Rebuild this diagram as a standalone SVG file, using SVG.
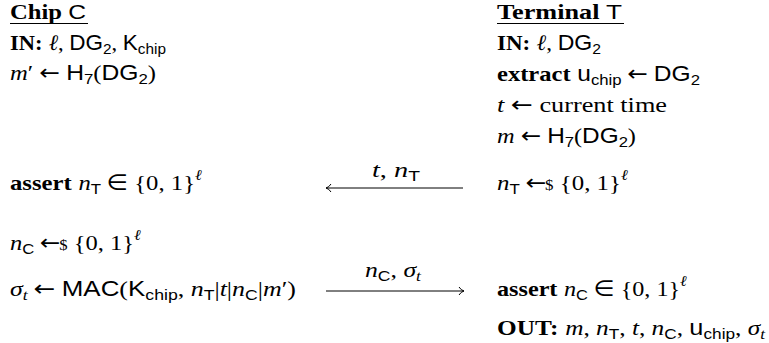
<svg xmlns="http://www.w3.org/2000/svg" width="769" height="343" viewBox="0 0 769 343">
<style>
text { font-size: 22px; fill: #000; font-family: "Liberation Serif", "DejaVu Serif", serif; }
.title { font-size: 21px; }
.bf { font-weight: bold; }
.it { font-style: italic; }
.sf { font-family: "Liberation Sans", "DejaVu Sans", sans-serif; }
.sy { font-family: "DejaVu Sans", sans-serif; }
.sub { font-size: 15px; }
.ul { stroke: #000; stroke-width: 1; }
.arr { stroke: #000; stroke-width: 1; fill: none; }
</style>
<rect width="769" height="343" fill="#fff"/>

<g id="chip">
  <text class="title" x="10" y="19" textLength="76" lengthAdjust="spacingAndGlyphs"><tspan class="bf">Chip</tspan> <tspan class="sf">C</tspan></text>
  <line class="ul" x1="10" y1="23.5" x2="88" y2="23.5"/>
  <text x="10" y="50" textLength="156" lengthAdjust="spacingAndGlyphs"><tspan class="bf">IN:</tspan><tspan class="it" dx="6">ℓ</tspan>, <tspan class="sf">DG</tspan><tspan class="sf sub" dy="4">2</tspan><tspan dy="-4">, </tspan><tspan class="sf">K</tspan><tspan class="sf sub" dy="4">chip</tspan></text>
  <text x="10" y="80" textLength="146" lengthAdjust="spacingAndGlyphs"><tspan class="it">m</tspan>′ <tspan class="sy">←</tspan> <tspan class="sf">H</tspan><tspan class="sf sub" dy="4">7</tspan><tspan dy="-4">(</tspan><tspan class="sf">DG</tspan><tspan class="sf sub" dy="4">2</tspan><tspan dy="-4">)</tspan></text>
  <text x="10" y="190" textLength="192" lengthAdjust="spacingAndGlyphs"><tspan class="bf">assert</tspan><tspan class="it" dx="6">n</tspan><tspan class="sf sub" dy="4">T</tspan><tspan class="sy" dy="-4" dx="5">∈</tspan> {0, 1}<tspan class="it sub" dy="-10">ℓ</tspan></text>
  <text x="10" y="250" textLength="131" lengthAdjust="spacingAndGlyphs"><tspan class="it">n</tspan><tspan class="sf sub" dy="4">C</tspan><tspan class="sy" dy="-4" dx="5">←</tspan><tspan class="sub" dx="-1">$</tspan> {0, 1}<tspan class="it sub" dy="-10">ℓ</tspan></text>
  <text x="10" y="296" textLength="286" lengthAdjust="spacingAndGlyphs"><tspan class="it">σ</tspan><tspan class="it sub" dy="4">t</tspan><tspan class="sy" dy="-4" dx="5">←</tspan> <tspan class="sf">MAC</tspan>(<tspan class="sf">K</tspan><tspan class="sf sub" dy="4">chip</tspan><tspan dy="-4">, </tspan><tspan class="it">n</tspan><tspan class="sf sub" dy="4">T</tspan><tspan dy="-4">|</tspan><tspan class="it">t</tspan>|<tspan class="it">n</tspan><tspan class="sf sub" dy="4">C</tspan><tspan dy="-4">|</tspan><tspan class="it">m</tspan>′)</text>
</g>

<g id="terminal">
  <text class="title" x="497" y="19" textLength="125" lengthAdjust="spacingAndGlyphs"><tspan class="bf">Terminal</tspan> <tspan class="sf">T</tspan></text>
  <line class="ul" x1="497" y1="23.5" x2="624" y2="23.5"/>
  <text x="497" y="50" textLength="104" lengthAdjust="spacingAndGlyphs"><tspan class="bf">IN:</tspan><tspan class="it" dx="6">ℓ</tspan>, <tspan class="sf">DG</tspan><tspan class="sf sub" dy="4">2</tspan></text>
  <text x="497" y="81" textLength="203" lengthAdjust="spacingAndGlyphs"><tspan class="bf">extract</tspan><tspan class="sf" dx="6">u</tspan><tspan class="sf sub" dy="4">chip</tspan><tspan class="sy" dy="-4" dx="5">←</tspan> <tspan class="sf">DG</tspan><tspan class="sf sub" dy="4">2</tspan></text>
  <text x="497" y="112" textLength="170" lengthAdjust="spacingAndGlyphs"><tspan class="it">t</tspan> <tspan class="sy">←</tspan> current time</text>
  <text x="497" y="143" textLength="139" lengthAdjust="spacingAndGlyphs"><tspan class="it">m</tspan> <tspan class="sy">←</tspan> <tspan class="sf">H</tspan><tspan class="sf sub" dy="4">7</tspan><tspan dy="-4">(</tspan><tspan class="sf">DG</tspan><tspan class="sf sub" dy="4">2</tspan><tspan dy="-4">)</tspan></text>
  <text x="497" y="190" textLength="131" lengthAdjust="spacingAndGlyphs"><tspan class="it">n</tspan><tspan class="sf sub" dy="4">T</tspan><tspan class="sy" dy="-4" dx="5">←</tspan><tspan class="sub" dx="-1">$</tspan> {0, 1}<tspan class="it sub" dy="-10">ℓ</tspan></text>
  <text x="497" y="296" textLength="190" lengthAdjust="spacingAndGlyphs"><tspan class="bf">assert</tspan><tspan class="it" dx="6">n</tspan><tspan class="sf sub" dy="4">C</tspan><tspan class="sy" dy="-4" dx="5">∈</tspan> {0, 1}<tspan class="it sub" dy="-10">ℓ</tspan></text>
  <text x="497" y="335" textLength="268" lengthAdjust="spacingAndGlyphs"><tspan class="bf">OUT:</tspan><tspan class="it" dx="6">m</tspan>, <tspan class="it">n</tspan><tspan class="sf sub" dy="4">T</tspan><tspan dy="-4">, </tspan><tspan class="it">t</tspan>, <tspan class="it">n</tspan><tspan class="sf sub" dy="4">C</tspan><tspan dy="-4">, </tspan><tspan class="sf">u</tspan><tspan class="sf sub" dy="4">chip</tspan><tspan dy="-4">, </tspan><tspan class="it">σ</tspan><tspan class="it sub" dy="4">t</tspan></text>
</g>

<g id="connectors">
  <g id="msg1">
    <text x="372" y="177" textLength="48" lengthAdjust="spacingAndGlyphs"><tspan class="it">t</tspan>, <tspan class="it">n</tspan><tspan class="sf sub" dy="4">T</tspan></text>
    <line class="arr" x1="326" y1="188" x2="463" y2="188"/>
    <path class="arr" d="M331,184 Q329,187.2 326,188 Q329,188.8 331,192"/>
  </g>
  <g id="msg2">
    <text x="365" y="277" textLength="56" lengthAdjust="spacingAndGlyphs"><tspan class="it">n</tspan><tspan class="sf sub" dy="4">C</tspan><tspan dy="-4">, </tspan><tspan class="it">σ</tspan><tspan class="it sub" dy="4">t</tspan></text>
    <line class="arr" x1="326" y1="291" x2="464" y2="291"/>
    <path class="arr" d="M459,287 Q461,290.2 464,291 Q461,291.8 459,295"/>
  </g>
</g>
</svg>
